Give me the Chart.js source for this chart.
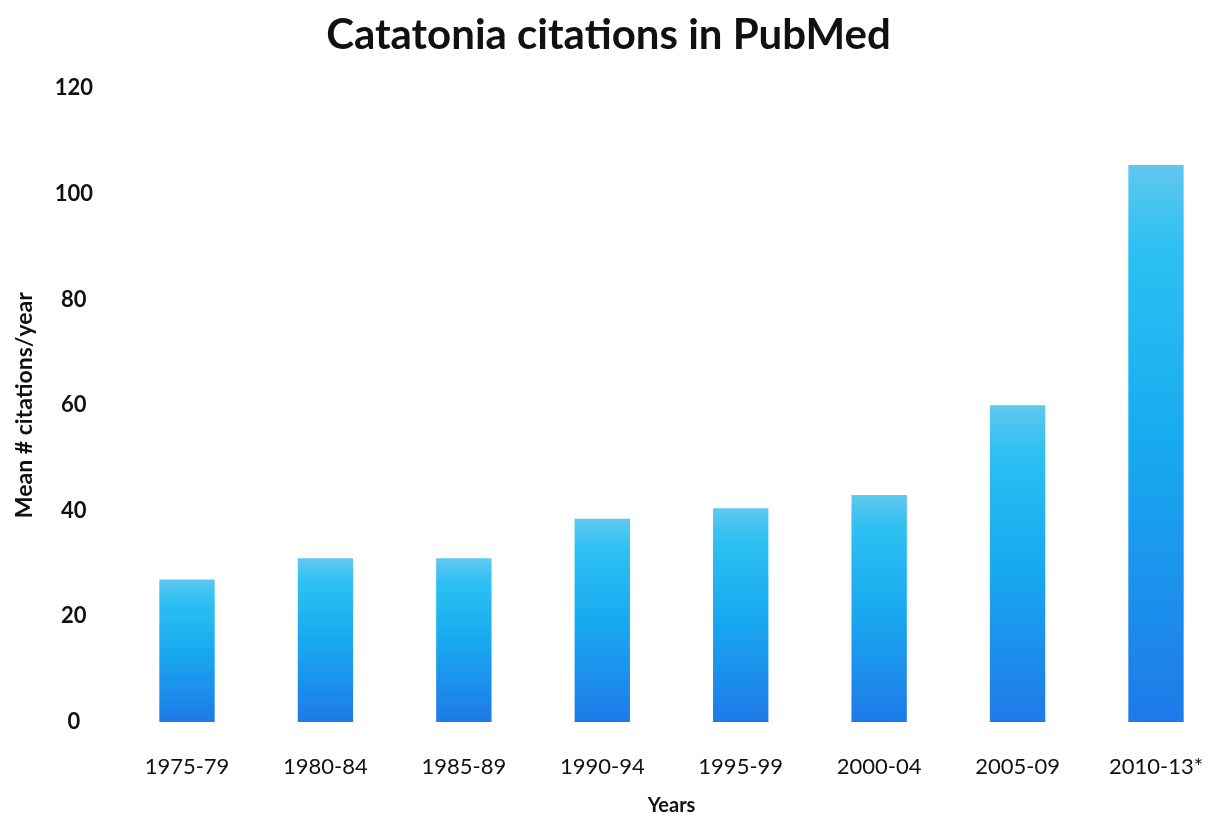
<!DOCTYPE html>
<html>
<head>
<meta charset="utf-8">
<script src="https://cdn.jsdelivr.net/npm/chart.js@4"></script>
<style>
  html, body { margin: 0; padding: 0; background: #fff; }
  #wrap { width: 1212px; height: 818px; }
</style>
</head>
<body>
<div id="wrap"><canvas id="grafico"></canvas></div>
<script>
const periodos = ["1975-79", "1980-84", "1985-89", "1990-94", "1995-99", "2000-04", "2005-09", "2010-13*"];
const mediaCitacoes = [27, 31, 31, 38.5, 40.5, 43, 60, 105.5];
const ticksY = [0, 20, 40, 60, 80, 100, 120];

// gradient per bar, light on top, deeper blue at the base
function corBarra(context) {
    const chart = context.chart;
    const area = chart.chartArea;
    if (!area) return '#22a6ee';
    const y = chart.scales.y;
    const topo = y.getPixelForValue(context.parsed.y);
    const base = y.getPixelForValue(0);
    if (!isFinite(topo) || topo === base) return '#22a6ee';
    const g = chart.ctx.createLinearGradient(0, topo, 0, base);
    g.addColorStop(0, 'rgb(96, 200, 240)');
    g.addColorStop(0.15, 'rgb(45, 192, 242)');
    g.addColorStop(0.5, 'rgb(24, 170, 240)');
    g.addColorStop(1, 'rgb(30, 122, 232)');
    return g;
}

const ctx = document.getElementById('grafico').getContext('2d');
new Chart(ctx, {
    type: 'bar',
    data: {
        labels: periodos,
        datasets: [{
            label: 'Mean # citations/year',
            data: mediaCitacoes,
            backgroundColor: corBarra,
            borderWidth: 0,
            categoryPercentage: 0.8,
            barPercentage: 0.5,
            clip: false
        }]
    },
    options: {
        responsive: true,
        maintainAspectRatio: false,
        animation: false,
        layout: {
            padding: { left: 5, right: 0, top: 0, bottom: 0 }
        },
        plugins: {
            legend: { display: false },
            tooltip: { enabled: false },
            title: {
                display: true,
                text: 'Catatonia citations in PubMed',
                color: '#111',
                font: { family: 'Lato', size: 42, weight: 'bold' },
                padding: { top: 10, bottom: 28 }
            }
        },
        scales: {
            x: {
                offset: false,
                // big tick padding would otherwise eat into the plot area
                afterFit: scale => {
                    scale.height = 96;
                    scale.paddingLeft = 0;
                    scale.paddingRight = 56;
                },
                grid: { display: false, drawTicks: false },
                border: { display: false },
                ticks: {
                    color: '#111',
                    font: { family: 'Lato', size: 22 },
                    padding: 32,
                    maxRotation: 0,
                    autoSkip: false
                },
                title: {
                    display: true,
                    text: 'Years',
                    color: '#111',
                    font: { family: 'Lato', size: 20, weight: 'bold' },
                    padding: { top: 4, bottom: 0 }
                }
            },
            y: {
                min: 0,
                max: 120,
                afterBuildTicks: scale => {
                    scale.ticks = ticksY.map(v => ({ value: v }));
                },
                afterFit: scale => {
                    scale.width = 182;
                    scale.paddingTop = 0;
                    scale.paddingBottom = 0;
                },
                grid: { display: false, drawTicks: false },
                border: { display: false },
                ticks: {
                    color: '#111',
                    font: { family: 'Lato', size: 22, weight: 'bold' },
                    crossAlign: 'center',
                    padding: 94
                },
                title: {
                    display: true,
                    text: 'Mean # citations/year',
                    color: '#111',
                    font: { family: 'Lato', size: 23, weight: 'bold' },
                    padding: { top: 6, bottom: 0 }
                }
            }
        }
    }
});
</script>
</body>
</html>
